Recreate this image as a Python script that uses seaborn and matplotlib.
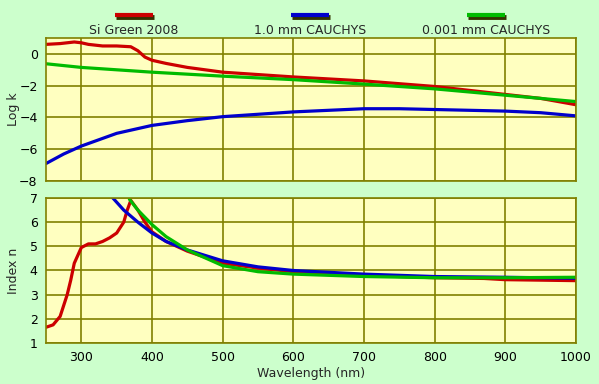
import numpy as np
import pandas as pd
import seaborn as sns
import matplotlib.pyplot as plt
from matplotlib.lines import Line2D

# Log k (top panel)
wl_k_red = [250, 270, 290, 300, 310, 330, 350, 370, 380, 390, 400, 420, 450, 500, 550, 600, 700, 800, 900, 950, 1000]
logk_red = [0.6, 0.65, 0.75, 0.7, 0.6, 0.5, 0.5, 0.45, 0.2, -0.2, -0.4, -0.6, -0.85, -1.15, -1.3, -1.45, -1.7, -2.05, -2.55, -2.8, -3.2]
wl_k_blue = [250, 275, 300, 325, 350, 375, 400, 450, 500, 550, 600, 650, 700, 750, 800, 850, 900, 950, 1000]
logk_blue = [-6.9, -6.3, -5.8, -5.4, -5.0, -4.75, -4.5, -4.2, -3.95, -3.8, -3.65, -3.55, -3.45, -3.45, -3.5, -3.55, -3.6, -3.7, -3.9]
wl_k_green = [250, 300, 400, 500, 600, 700, 800, 900, 1000]
logk_green = [-0.62, -0.85, -1.15, -1.4, -1.62, -1.9, -2.2, -2.6, -3.0]

# Index n (bottom panel)
wl_n_red = [250, 260, 270, 280, 285, 290, 300, 310, 320, 330, 340, 350, 360, 365, 370, 380, 390, 400, 420, 450,
            500, 550, 600, 700, 800, 870, 900, 1000]
n_red = [1.65, 1.75, 2.1, 3.0, 3.6, 4.3, 4.95, 5.1, 5.1, 5.2, 5.35, 5.55, 6.0, 6.5, 6.9, 6.5, 6.0, 5.6, 5.2, 4.8,
         4.3, 4.1, 3.95, 3.8, 3.7, 3.67, 3.62, 3.58]
wl_n_blue = [340, 360, 380, 400, 420, 450, 500, 550, 600, 700, 800, 900, 1000]
n_blue = [7.15, 6.5, 6.0, 5.55, 5.2, 4.85, 4.4, 4.15, 4.0, 3.85, 3.75, 3.72, 3.68]
wl_n_green = [368, 380, 400, 420, 450, 500, 550, 600, 700, 800, 900, 1000]
n_green = [6.95, 6.5, 5.9, 5.4, 4.85, 4.2, 3.95, 3.85, 3.75, 3.7, 3.7, 3.72]

labels = ["Si Green 2008", "1.0 mm CAUCHYS", "0.001 mm CAUCHYS"]
colors = ["#cc0000", "#0000cc", "#00bb00"]

sns.set_style("white")
plt.rcParams['font.family'] = ['DejaVu Sans']

fig = plt.figure(figsize=(5.99, 3.84), dpi=100, facecolor="#ccffcc")
ax1 = fig.add_axes([0.0768, 0.5286, 0.8848, 0.3724])
ax2 = fig.add_axes([0.0768, 0.1068, 0.8848, 0.3776])

top = [(wl_k_red, logk_red), (wl_k_blue, logk_blue), (wl_k_green, logk_green)]
bot = [(wl_n_red, n_red), (wl_n_blue, n_blue), (wl_n_green, n_green)]
for (x, y), c in zip(top, colors):
    sns.lineplot(x=x, y=y, color=c, lw=2.3, ax=ax1)
for (x, y), c in zip(bot, colors):
    sns.lineplot(x=x, y=y, color=c, lw=2.3, ax=ax2)

olive = "#808000"
for ax in (ax1, ax2):
    ax.set_facecolor("#ffffc0")
    ax.set_xlim(250, 1000)
    ax.set_xticks(range(300, 1001, 100))
    ax.grid(True, color=olive, lw=1.2)
    for s in ax.spines.values():
        s.set_color(olive)
        s.set_linewidth(1.2)
    ax.tick_params(colors="black", labelsize=9, length=4, color=olive, pad=2)

ax1.set_ylim(-8, 1)
ax1.set_yticks([-8, -6, -4, -2, 0])
ax1.set_xticklabels([])
ax1.tick_params(axis="x", length=0)
ax1.set_ylabel("Log k", fontsize=9)

ax2.set_ylim(1, 7)
ax2.set_yticks(range(1, 8))
ax2.set_ylabel("Index n", fontsize=9)
ax2.set_xlabel("Wavelength (nm)", fontsize=9, labelpad=2)
ax1.yaxis.set_label_coords(-0.05, 0.5)
ax2.yaxis.set_label_coords(-0.05, 0.5)

# legend: short bar above each label
centers = [134, 310, 486]
for cx, lab, c in zip(centers, labels, colors):
    x0, x1 = (cx - 19) / 599, (cx + 19) / 599
    yy = 1 - 15 / 384
    fig.add_artist(Line2D([x0 + 0.002, x1 + 0.002], [yy - 0.004, yy - 0.004], color="#333300", lw=3.5,
                          solid_capstyle="butt", transform=fig.transFigure))
    fig.add_artist(Line2D([x0, x1], [yy, yy], color=c, lw=3, solid_capstyle="butt",
                          transform=fig.transFigure))
    fig.text(cx / 599, 1 - 30 / 384, lab, ha="center", va="center", fontsize=9)

plt.savefig("out.png", dpi=100, facecolor=fig.get_facecolor())
